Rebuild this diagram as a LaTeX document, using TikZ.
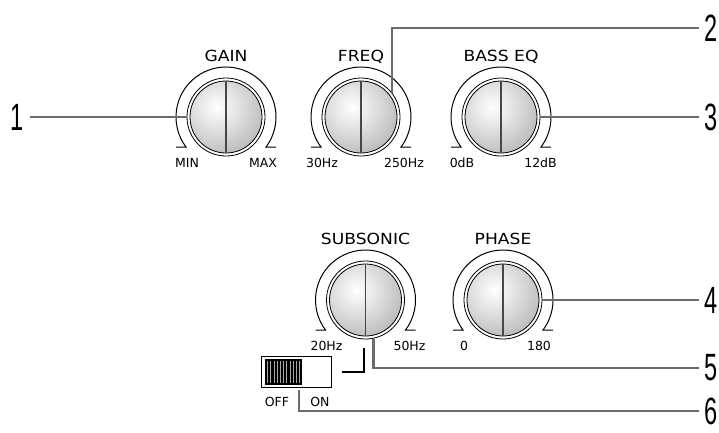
\documentclass[tikz,border=0pt]{standalone}
\usepackage{fontspec}
\setmainfont{DejaVu Sans}
\newfontfamily\ttlfont[FakeStretch=1.12]{DejaVu Sans}
\newfontfamily\numfont[FakeStretch=0.62]{Liberation Sans}
\tikzset{
 knobnode/.style={circle, draw=black, line width=0.8pt, fill=white, minimum size=78pt, inner sep=0pt},
 knobring/.style={draw=black, line width=0.8pt},
 knobline/.style={draw=black!72, line width=1.8pt},
 dialarc/.style={draw=black, line width=1pt},
 ttl/.style={font=\ttlfont\fontsize{15.3}{15.3}\selectfont, anchor=base, inner sep=0pt},
 lbl/.style={font=\fontsize{12.5}{12.5}\selectfont, anchor=base, inner sep=0pt},
 leader/.style={draw=black!58, line width=2.7pt},
 num/.style={font=\numfont\fontsize{38}{38}\selectfont, inner sep=0pt, anchor=west},
 markline/.style={draw=black, line width=1.3pt},
}
\newcommand\mkknob[7]{%
 \node[knobnode] (#1) at (#2,#3) {};
 \begin{scope}
  \clip (#1.center) circle (36pt);
  \shade[inner color=white, outer color=black!28] ([shift={(-9pt,10pt)}]#1.center) circle (52pt);
 \end{scope}
 \draw[knobring] (#1.center) circle (36pt);
 \draw[knobline] ([yshift=36pt]#1.center) -- ([yshift=-36pt]#1.center);
 \draw[dialarc] ([shift={(-50,30)}]#1.center) -- ++(10,0) arc[start angle=143.13, end angle=396.87, radius=50] -- ++(10,0);
 \node[ttl] (#1-t) at ([yshift=55.5pt]#1.center) {#4};
 \node[lbl] (#1-l) at ([shift={(-39pt,-50pt)}]#1.center) {#5};
 \node[lbl] (#1-r) at ([shift={(#7pt,-50pt)}]#1.center) {#6};
}
\begin{document}
\begin{tikzpicture}[x=1pt,y=-1pt]
\useasboundingbox (0,0) rectangle (719,432);

\mkknob{gain}{226}{117}{GAIN}{MIN}{MAX}{37}
\mkknob{freq}{361}{117}{FREQ}{30Hz}{250Hz}{43}
\mkknob{bass}{501}{117}{BASS EQ}{0dB}{12dB}{39.5}
\mkknob{sub}{365.5}{300}{SUBSONIC}{20Hz}{50Hz}{44}
\mkknob{phase}{503}{300}{PHASE}{0}{180}{36}

% switch
\node[draw=black, line width=0.9pt, fill=white, minimum width=70pt, minimum height=31pt, inner sep=0pt] (sw) at (296,371.5) {};
\fill[black] (265,359) rectangle (302,385);
\foreach \i in {0,...,10} \draw[black!35, line width=0.8pt] (267.5+\i*3.2,361) -- (267.5+\i*3.2,383);
\node[lbl] (off) at (277,406) {OFF};
\node[lbl] (on) at (320,406) {ON};
\coordinate (c6) at (299,390);
\coordinate (mk1) at (342,372);
\coordinate (mk2) at (364,348);
\draw[markline] (mk1) -| (mk2);

% numbers
\node[num] (n1) at (10,117) {1};
\node[num] (n2) at (704,28) {2};
\node[num] (n3) at (704,117) {3};
\node[num] (n4) at (704,300) {4};
\node[num] (n5) at (704,368) {5};
\node[num] (n6) at (704,411) {6};

% leaders
\draw[leader, shorten <=6pt] (n1.east) -- (gain.west);
\draw[leader, shorten <=5pt] (n2.west) -| (freq.38);
\draw[leader, shorten <=5pt] (n3.west) -- (bass.east);
\draw[leader, shorten <=5pt] (n4.west) -- (phase.east);
\draw[leader, shorten <=5pt] (n5.west) -| (sub.-78);
\draw[leader, shorten <=5pt] (n6.west) -| (c6);
\end{tikzpicture}
\end{document}
